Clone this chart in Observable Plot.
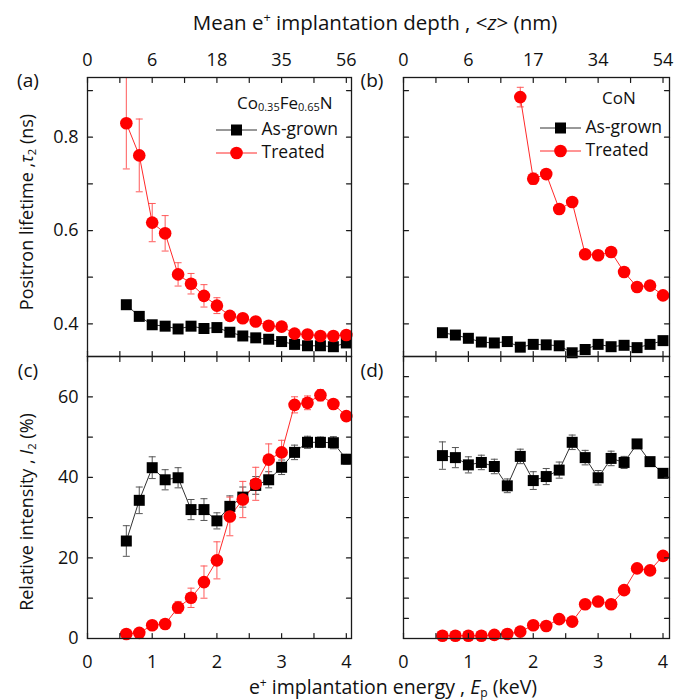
<!DOCTYPE html>
<html><head><meta charset="utf-8">
<script src="https://cdn.jsdelivr.net/npm/d3@7"></script>
<script src="https://cdn.jsdelivr.net/npm/@observablehq/plot@0.6"></script>
<style>
body{margin:0;background:#fff;}
#fig{position:relative;width:686px;height:700px;font-family:"Open Sans",sans-serif;color:#111;overflow:hidden;}
#fig > svg{position:absolute;left:0;top:0;}
.lbl{position:absolute;white-space:nowrap;line-height:1;transform:translate(-50%,-50%);}
.rot{transform:translate(-50%,-50%) rotate(-90deg);}
.lbl sub{font-size:62%;vertical-align:-0.25em;}
.lbl sup{font-size:62%;vertical-align:0.6em;}
.leg{position:absolute;white-space:nowrap;line-height:16px;height:16px;font-size:17.5px;transform:translateY(-50%);}
.leg svg{vertical-align:middle;}
.leg sub{font-size:11px;line-height:0;vertical-align:-0.2em;}
</style></head><body><div id="fig"></div>
<script>
// ---- data ----
const energy = [0.6,0.8,1.0,1.2,1.4,1.6,1.8,2.0,2.2,2.4,2.6,2.8,3.0,3.2,3.4,3.6,3.8,4.0];
const energyTreatedCoN = [1.8,2.0,2.2,2.4,2.6,2.8,3.0,3.2,3.4,3.6,3.8,4.0];

// (a) Co0.35Fe0.65N lifetime tau2 (ns)
const tauGrownCFN    = [0.441,0.416,0.398,0.395,0.389,0.395,0.390,0.392,0.382,0.374,0.370,0.367,0.362,0.356,0.353,0.353,0.351,0.359];
const tauGrownCFNErr = [0.008,0.006,0.005,0.005,0.005,0.005,0.005,0.005,0.005,0.005,0.004,0.004,0.004,0.004,0.004,0.004,0.004,0.004];
const tauTreatedCFN    = [0.830,0.761,0.617,0.594,0.506,0.486,0.460,0.439,0.417,0.412,0.405,0.396,0.394,0.379,0.377,0.374,0.374,0.376];
const tauTreatedCFNErr = [0.098,0.078,0.041,0.038,0.025,0.022,0.024,0.017,0.008,0.007,0.006,0.006,0.006,0.005,0.005,0.005,0.005,0.005];

// (b) CoN lifetime tau2 (ns)
const tauGrownCoN    = [0.381,0.376,0.369,0.361,0.359,0.362,0.350,0.356,0.355,0.353,0.338,0.345,0.356,0.351,0.354,0.349,0.356,0.364];
const tauGrownCoNErr = [0.005,0.005,0.004,0.004,0.004,0.004,0.004,0.004,0.004,0.004,0.004,0.004,0.004,0.004,0.004,0.004,0.004,0.004];
const tauTreatedCoN    = [0.886,0.711,0.721,0.646,0.661,0.549,0.547,0.554,0.511,0.479,0.482,0.461];
const tauTreatedCoNErr = [0.021,0.012,0.010,0.008,0.008,0.006,0.006,0.006,0.006,0.005,0.005,0.005];

// (c) Co0.35Fe0.65N intensity I2 (%)
const intGrownCFN    = [24.2,34.3,42.4,39.4,39.9,32.0,32.0,29.2,32.8,35.1,38.0,39.4,42.5,46.2,48.7,48.7,48.6,44.5];
const intGrownCFNErr = [3.8,3.3,2.7,2.5,2.5,2.5,2.7,2.0,2.6,2.5,2.2,2.0,1.8,1.8,1.5,1.3,1.5,1.2];
const intTreatedCFN    = [1.1,1.4,3.3,3.6,7.7,10.1,14.0,19.4,30.3,34.5,38.4,44.4,46.2,58.0,58.5,60.4,58.2,55.2];
const intTreatedCFNErr = [0.5,0.5,0.6,0.7,1.5,2.4,4.0,4.6,4.8,4.5,4.1,3.9,3.0,2.0,1.7,1.4,1.0,0.8];

// (d) CoN intensity I2 (%)
const intGrownCoN    = [45.4,44.9,43.1,43.7,42.7,37.9,45.2,39.2,40.2,41.8,48.7,44.9,39.9,44.7,43.7,48.3,43.9,41.0];
const intGrownCoNErr = [3.4,2.5,2.0,1.8,1.8,1.7,1.8,2.2,2.0,2.0,1.8,1.8,1.8,1.8,1.5,1.0,1.0,0.8];
const intTreatedCoN    = [0.7,0.7,0.7,0.7,0.9,1.1,1.7,3.3,3.1,4.8,4.2,8.5,9.2,8.5,12.0,17.4,16.9,20.5];
const intTreatedCoNErr = [0.3,0.3,0.3,0.3,0.3,0.3,0.3,0.3,0.3,0.3,0.3,0.4,0.4,0.4,0.4,0.4,0.4,0.4];

// ---- ticks ----
const energyMajor = [0,1,2,3,4];
const energyMinor = [0.5,1.5,2.5,3.5];
const depthLabelsCFN = ["0","6","18","35","56"];
const depthLabelsCoN = ["0","6","17","34","54"];
const tauMajor = [0.4,0.6,0.8];
const tauMinor = [0.5,0.7,0.9];
const intMajor = [0,20,40,60];
const intMinorCFN = [10,30,50];
const intMinorCoN = [5,10,15,25,30,35,45,50,55,65];

// ---- drawing ----
const INK = "#1a1a1a";
const FONT = "Open Sans, sans-serif";
const tickShape = {draw(ctx, l){ ctx.moveTo(0,0); ctx.lineTo(0,-l); }};
const capSymbol = {draw(ctx, size){ const w = Math.sqrt(size/Math.PI); ctx.moveTo(-w,0); ctx.lineTo(w,0); }};
const rows = (E, v, e) => E.map((x,i)=>({E:x, v:v[i], e:e[i]}));

function errorMarks(data, color){
  return [
    Plot.ruleX(data, {x:"E", y1:d=>d.v-d.e, y2:d=>d.v+d.e, stroke:color, strokeWidth:1, clip:true}),
    Plot.dot(data, {x:"E", y:d=>d.v+d.e, symbol:capSymbol, r:3.5, stroke:color, fill:"none", strokeWidth:1, clip:true}),
    Plot.dot(data, {x:"E", y:d=>d.v-d.e, symbol:capSymbol, r:3.5, stroke:color, fill:"none", strokeWidth:1, clip:true})
  ];
}

function panel(o){
  const grown = rows(energy, o.grown, o.grownErr);
  const treated = rows(o.trE, o.treated, o.treatedErr);
  const xt = [...energyMajor, ...energyMinor];
  const yt = [...o.yMajor, ...o.yMinor];
  const tk = {length:5, anchor:"start", shape:tickShape, stroke:INK, strokeWidth:1.2};
  const marks = [
    ...errorMarks(grown, "#555"),
    ...errorMarks(treated, "#ff5a5a"),
    Plot.line(grown, {x:"E", y:"v", stroke:"#333", strokeWidth:1}),
    Plot.line(treated, {x:"E", y:"v", stroke:"#ff2a2a", strokeWidth:1}),
    Plot.dot(grown, {x:"E", y:"v", symbol:"square", r:6.2, fill:"#000"}),
    Plot.dot(treated, {x:"E", y:"v", r:6.3, fill:"#ff0000"}),
    Plot.frame({stroke:INK, strokeWidth:1.3}),
    Plot.vector(xt, {x:d=>d, frameAnchor:"bottom", rotate:0, ...tk}),
    Plot.vector(xt, {x:d=>d, frameAnchor:"top", rotate:180, ...tk}),
    Plot.vector(yt, {y:d=>d, frameAnchor:"left", rotate:90, ...tk}),
    Plot.vector(yt, {y:d=>d, frameAnchor:"right", rotate:-90, ...tk})
  ];
  const txt = {fontSize:18, fontFamily:FONT, fill:"#111", lineAnchor:"middle"};
  if (o.bottomLabels) marks.push(Plot.text(energyMajor, {x:d=>d, frameAnchor:"bottom", dy:24, text:d=>String(d), ...txt}));
  if (o.depthLabels) marks.push(Plot.text(energyMajor, {x:d=>d, frameAnchor:"top", dy:-17, text:(d,i)=>o.depthLabels[i], ...txt}));
  if (o.yLabels) marks.push(Plot.text(o.yMajor, {y:d=>d, frameAnchor:"left", dx:-9, textAnchor:"end", text:o.yFormat, ...txt}));
  return Plot.plot({
    width:686, height:700,
    marginLeft:o.left, marginRight:686-o.right, marginTop:o.top, marginBottom:700-o.bottom,
    x:{domain:[0,o.xMax], axis:null}, y:{domain:o.yDomain, axis:null},
    style:{background:"transparent", overflow:"visible", fontFamily:FONT},
    marks
  });
}

const fig = document.getElementById("fig");
const fmtTau = d=>d3.format(".1f")(d);
const fmtInt = d=>String(d);

fig.append(panel({left:87,right:351,top:77,bottom:356,xMax:4.08,yDomain:[0.33,0.928],
  grown:tauGrownCFN, grownErr:tauGrownCFNErr, trE:energy, treated:tauTreatedCFN, treatedErr:tauTreatedCFNErr,
  yMajor:tauMajor, yMinor:tauMinor, yLabels:true, yFormat:fmtTau, depthLabels:depthLabelsCFN}));
fig.append(panel({left:403,right:669,top:77,bottom:356,xMax:4.1,yDomain:[0.33,0.928],
  grown:tauGrownCoN, grownErr:tauGrownCoNErr, trE:energyTreatedCoN, treated:tauTreatedCoN, treatedErr:tauTreatedCoNErr,
  yMajor:tauMajor, yMinor:tauMinor, yLabels:false, depthLabels:depthLabelsCoN}));
fig.append(panel({left:87,right:351,top:356,bottom:638,xMax:4.08,yDomain:[0,70],
  grown:intGrownCFN, grownErr:intGrownCFNErr, trE:energy, treated:intTreatedCFN, treatedErr:intTreatedCFNErr,
  yMajor:intMajor, yMinor:intMinorCFN, yLabels:true, yFormat:fmtInt, bottomLabels:true}));
fig.append(panel({left:403,right:669,top:356,bottom:638,xMax:4.1,yDomain:[0,70],
  grown:intGrownCoN, grownErr:intGrownCoNErr, trE:energy, treated:intTreatedCoN, treatedErr:intTreatedCoNErr,
  yMajor:intMajor, yMinor:intMinorCoN, yLabels:false, bottomLabels:true}));

// ---- text labels ----
function label(html, x, y, size, rot){
  const d = document.createElement("div");
  d.className = "lbl" + (rot ? " rot" : "");
  d.style.left = x + "px"; d.style.top = y + "px"; d.style.fontSize = size + "px";
  d.innerHTML = html;
  fig.append(d);
}
label("Mean e<sup>+</sup> implantation depth , &lt;<i>z</i>&gt; (nm)", 375, 22, 20.5);
label("e<sup>+</sup> implantation energy , <i>E</i><sub>p</sub> (keV)", 393, 688, 19.5);
label("Positron lifetime ,<i>τ</i><sub>2</sub> (ns)", 27, 212, 18, true);
label("Relative intensity , <i>I</i><sub>2</sub> (%)", 27, 512, 18, true);
label("(a)", 28, 80, 19); label("(b)", 372, 80, 19);
label("(c)", 28, 370, 19); label("(d)", 372, 370, 19);

// ---- legends ----
function glyph(kind){
  const mark = kind === "sq"
    ? '<rect x="15" y="2.5" width="11" height="11" fill="#000"/>'
    : '<circle cx="20.5" cy="8" r="6.3" fill="#ff0000"/>';
  const col = kind === "sq" ? "#333" : "#ff2a2a";
  return `<svg width="41" height="16" style="overflow:visible"><line x1="0" y1="8" x2="41" y2="8" stroke="${col}" stroke-width="1"/>${mark}</svg>`;
}
function legendRow(html, x, y){
  const d = document.createElement("div");
  d.className = "leg"; d.style.left = x + "px"; d.style.top = y + "px";
  d.innerHTML = html; fig.append(d);
}
legendRow('<span style="font-size:17px">Co<sub>0.35</sub>Fe<sub>0.65</sub>N</span>', 237, 102);
legendRow(glyph("sq") + ' As-grown', 216, 127.5);
legendRow(glyph("ci") + ' Treated', 216, 150.5);
legendRow('<span style="font-size:17px">CoN</span>', 602, 97);
legendRow(glyph("sq") + ' As-grown', 540, 126);
legendRow(glyph("ci") + ' Treated', 540, 149);
</script>
</body></html>
